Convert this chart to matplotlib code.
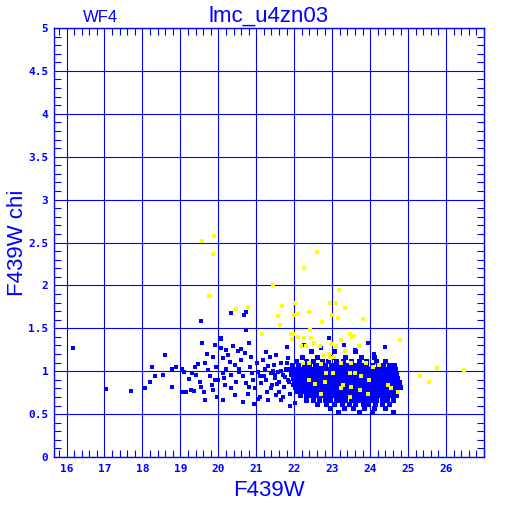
import numpy as np
import matplotlib
matplotlib.use("Agg")
import matplotlib.pyplot as plt
from matplotlib.ticker import MultipleLocator

BLUE = (0, 0, 1)
YELLOW = (1, 1, 0)
THIN = ["Liberation Sans", "DejaVu Sans"]

title = "lmc_u4zn03"
chip = "WF4"

# sparse blue stars (F439W mag, chi)
sparse_mag = [16.17, 17.03, 17.71, 18.07, 18.19, 18.32, 18.26, 18.59, 18.54, 18.79,
              18.89, 18.78, 19.58, 19.53, 19.90, 20.34, 20.67, 20.74, 20.74, 22.91,
              20.08, 19.05, 19.09, 19.03, 19.16, 19.29, 19.35, 19.24, 19.38, 19.46,
              19.42, 19.51, 19.55, 19.61, 19.64, 19.58, 19.64, 19.73, 19.77, 19.82,
              19.86, 19.90, 19.86, 19.95, 19.90, 19.97, 20.08, 20.08, 20.12, 20.11,
              20.14, 20.17, 20.12, 20.21, 20.25, 20.30, 20.34, 20.34, 20.38, 20.43,
              20.47, 20.52, 20.54, 20.61, 20.65, 20.65, 20.69, 20.74, 20.78, 20.82,
              20.84, 20.87, 20.89, 20.91, 20.81, 20.96, 21.02, 21.04, 21.04, 21.09,
              21.13, 21.17, 21.22, 21.26, 21.28, 21.31, 21.35, 21.39, 21.42, 21.46,
              21.48, 21.53, 21.53, 21.57, 21.61, 21.66, 21.66, 21.70, 21.74, 21.79,
              21.83, 21.83, 21.88, 21.92, 21.96, 21.96, 22.01, 22.05, 22.09, 21.20,
              21.55, 21.75, 21.40, 21.65, 21.85, 21.30, 21.60, 21.80, 21.50, 21.70,
              22.25, 23.30, 23.60, 24.10, 24.40, 22.70, 23.95, 20.20, 20.60, 21.25,
              21.80, 20.45, 20.95, 21.10, 21.45, 21.90, 19.70, 20.00, 20.55, 19.30]
sparse_chi = [1.27, 0.79, 0.77, 0.81, 0.87, 0.95, 1.05, 1.19, 0.96, 0.82,
              1.05, 1.03, 1.33, 1.58, 1.30, 1.68, 1.65, 1.69, 1.48, 1.39,
              1.39, 1.03, 0.99, 0.76, 0.76, 0.78, 0.77, 0.91, 1.05, 1.08,
              0.96, 0.88, 0.82, 0.76, 0.66, 1.33, 1.09, 1.01, 0.94, 0.84,
              0.78, 1.31, 1.17, 1.05, 0.90, 0.70, 1.38, 1.27, 1.15, 0.98,
              0.92, 0.84, 0.66, 1.03, 1.19, 1.11, 0.96, 0.80, 1.29, 1.07,
              0.88, 1.23, 0.99, 1.13, 0.94, 0.64, 1.21, 0.86, 0.74, 1.33,
              1.05, 1.17, 0.98, 0.90, 0.82, 0.80, 1.09, 0.99, 0.68, 0.94,
              0.86, 1.13, 1.03, 0.90, 0.76, 0.66, 1.17, 0.98, 0.84, 1.07,
              0.92, 1.19, 0.72, 0.99, 0.88, 1.09, 0.66, 0.96, 0.82, 1.03,
              1.15, 0.90, 0.74, 0.98, 1.07, 0.84, 0.63, 0.94, 0.78, 0.95,
              0.85, 0.93, 0.80, 1.00, 0.87, 1.06, 0.76, 1.10, 0.96, 0.70,
              1.30, 1.30, 1.25, 1.20, 1.28, 1.27, 1.33, 1.25, 1.26, 1.22,
              1.28, 0.72, 0.62, 0.70, 1.00, 0.60, 1.20, 0.90, 1.02, 0.98]

# dense clump, read row by row (chi level, mags)
clump_rows = [
    (1.23, [22.45, 23.05, 23.60]),
    (1.17, [22.20, 22.60, 23.00, 23.35, 23.75, 24.10]),
    (1.12, [22.05, 22.30, 22.50, 22.72, 22.90, 23.10, 23.28, 23.50, 23.70, 23.90, 24.15, 24.40]),
    (1.07, [21.95, 22.10, 22.25, 22.40, 22.55, 22.68, 22.82, 22.96, 23.10, 23.22, 23.36, 23.50,
            23.63, 23.77, 23.90, 24.05, 24.20, 24.35, 24.50, 24.62]),
    (1.02, [21.90, 22.02, 22.15, 22.28, 22.40, 22.52, 22.65, 22.77, 22.90, 23.02, 23.15, 23.27,
            23.40, 23.52, 23.65, 23.77, 23.90, 24.02, 24.15, 24.28, 24.40, 24.52, 24.65]),
    (0.97, [21.92, 22.05, 22.17, 22.30, 22.42, 22.55, 22.67, 22.80, 22.92, 23.05, 23.17, 23.30,
            23.42, 23.55, 23.67, 23.80, 23.92, 24.05, 24.17, 24.30, 24.42, 24.55, 24.68]),
    (0.92, [21.97, 22.10, 22.22, 22.35, 22.47, 22.60, 22.72, 22.85, 22.97, 23.10, 23.22, 23.35,
            23.47, 23.60, 23.72, 23.85, 23.97, 24.10, 24.22, 24.35, 24.47, 24.60, 24.72]),
    (0.87, [22.00, 22.12, 22.25, 22.37, 22.50, 22.62, 22.75, 22.87, 23.00, 23.12, 23.25, 23.37,
            23.50, 23.62, 23.75, 23.87, 24.00, 24.12, 24.25, 24.37, 24.50, 24.62, 24.76]),
    (0.82, [22.02, 22.15, 22.27, 22.40, 22.52, 22.65, 22.77, 22.90, 23.02, 23.15, 23.27, 23.40,
            23.52, 23.65, 23.77, 23.90, 24.02, 24.15, 24.27, 24.40, 24.52, 24.65, 24.78]),
    (0.77, [22.08, 22.20, 22.33, 22.45, 22.58, 22.70, 22.83, 22.95, 23.08, 23.20, 23.33, 23.45,
            23.58, 23.70, 23.83, 23.95, 24.08, 24.20, 24.33, 24.45, 24.58, 24.72]),
    (0.72, [22.15, 22.30, 22.42, 22.55, 22.67, 22.80, 22.92, 23.05, 23.17, 23.30, 23.42, 23.55,
            23.67, 23.80, 23.92, 24.05, 24.17, 24.30, 24.42, 24.55, 24.68]),
    (0.67, [22.30, 22.50, 22.65, 22.80, 22.95, 23.10, 23.22, 23.35, 23.50, 23.62, 23.75, 23.90,
            24.02, 24.15, 24.30, 24.45, 24.60]),
    (0.62, [22.60, 22.85, 23.05, 23.25, 23.45, 23.60, 23.80, 23.95, 24.12, 24.30, 24.50]),
    (0.57, [22.95, 23.30, 23.55, 23.85, 24.10, 24.40]),
    (0.52, [23.15, 23.70, 24.05, 24.60]),
]

# yellow stars (flagged)
yel_mag = [19.58, 19.89, 19.87, 22.61, 22.25, 21.45, 19.76, 23.19, 20.47, 20.79,
           21.67, 22.03, 22.94, 23.09, 23.35, 22.40, 22.09, 22.00, 21.58, 23.00,
           23.15, 23.82, 21.63, 22.72, 21.14, 21.92, 22.42, 23.46, 23.58, 22.11,
           22.26, 22.45, 21.93, 23.53, 24.79, 25.75, 26.47, 25.31, 25.56, 21.96,
           22.18, 22.32, 22.53, 22.67, 22.97, 23.24, 23.09, 23.70, 23.33, 22.75,
           22.91, 23.06, 22.23, 22.40, 22.71, 22.93, 23.24, 23.50, 23.89, 24.24,
           24.07, 22.84, 23.02, 23.46, 23.59, 23.76, 23.98, 22.80, 23.28, 23.50,
           23.24, 23.72, 24.46, 24.55, 22.40, 22.56, 22.70, 23.46, 23.94, 24.73]
yel_chi = [2.52, 2.58, 2.37, 2.39, 2.20, 2.01, 1.88, 1.95, 1.73, 1.75,
           1.76, 1.79, 1.79, 1.80, 1.74, 1.69, 1.67, 1.65, 1.64, 1.65,
           1.62, 1.61, 1.54, 1.57, 1.43, 1.43, 1.48, 1.43, 1.41, 1.40,
           1.39, 1.39, 1.38, 1.40, 1.36, 1.04, 1.01, 0.94, 0.87, 1.43,
           1.29, 1.29, 1.33, 1.29, 1.32, 1.36, 1.29, 1.29, 1.23, 1.19,
           1.20, 1.17, 1.09, 1.10, 1.08, 1.15, 1.09, 1.09, 1.10, 1.07,
           1.05, 0.98, 0.98, 0.98, 0.98, 0.94, 0.90, 0.87, 0.84, 0.82,
           0.80, 0.78, 0.84, 0.80, 0.90, 0.85, 0.74, 0.70, 0.74, 0.76]

clump_mag = [m for chi, mags in clump_rows for m in mags]
clump_chi = [chi for chi, mags in clump_rows for m in mags]

fig = plt.figure(figsize=(5.12, 5.12), dpi=100)
ax = fig.add_axes([0.1055, 0.1074, 0.8398, 0.8379])

ax.plot(clump_mag, clump_chi, 's', color=BLUE, markersize=3.6, markeredgewidth=0, zorder=3)
ax.plot(sparse_mag, sparse_chi, 's', color=BLUE, markersize=2.2, markeredgewidth=0, zorder=3)
ax.plot(yel_mag, yel_chi, 's', color=YELLOW, markersize=2.2, markeredgewidth=0, zorder=4)

ax.set_xlim(15.67, 27.0)
ax.set_ylim(0, 5)

ax.xaxis.set_minor_locator(MultipleLocator(0.2))
ax.yaxis.set_minor_locator(MultipleLocator(0.1))
ax.set_xticks(range(16, 27))
ax.set_xticklabels([str(v) for v in range(16, 27)])
yt = np.arange(0, 5.01, 0.5)
ax.set_yticks(yt)
ax.set_yticklabels(["%g" % v for v in yt])

ax.grid(True, which="major", color=BLUE, linewidth=0.8)
ax.set_axisbelow(True)
ax.tick_params(which="both", direction="in", colors=BLUE, top=True, right=True,
               width=0.8)
ax.tick_params(which="major", length=0)
ax.tick_params(which="minor", length=5)
ax.tick_params(axis="x", pad=5, labelsize=8)
ax.tick_params(axis="y", pad=4, labelsize=8)
for lab in ax.get_xticklabels() + ax.get_yticklabels():
    lab.set_fontfamily("DejaVu Sans Mono")
    lab.set_fontweight("bold")
for s in ax.spines.values():
    s.set_color(BLUE)
    s.set_linewidth(1.0)

ax.set_xlabel("F439W", color=BLUE, fontsize=16, family=THIN)
ax.xaxis.set_label_coords(0.5, -0.078)
ax.xaxis.label.set_va("center")
ax.set_ylabel("F439W chi", color=BLUE, fontsize=16, family=THIN)
ax.yaxis.set_label_coords(-0.084, 0.5)
ax.yaxis.label.set_va("center")
fig.text(0.525, 0.968, title, color=BLUE, fontsize=16, ha="center", va="center",
         family=THIN)
fig.text(0.196, 0.966, chip, color=BLUE, fontsize=12, ha="center", va="center",
         family=THIN)

fig.savefig("out.png", dpi=100, facecolor="white")
